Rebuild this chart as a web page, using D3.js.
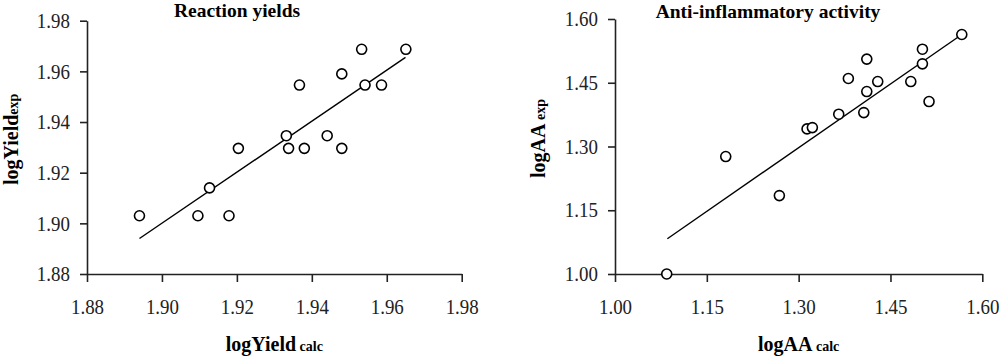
<!DOCTYPE html>
<html>
<head>
<meta charset="utf-8">
<script src="https://cdn.jsdelivr.net/npm/d3@7"></script>
<style>
  body { margin: 0; background: #fff; }
  svg { display: block; }
  svg text { font-family: "Liberation Serif", "Times New Roman", serif; }
</style>
</head>
<body>
<div id="chart"></div>
<script>
// left panel: reaction yields
const yieldCalc = [1.894, 1.9096, 1.9127, 1.9179, 1.9204, 1.9332, 1.9338, 1.9367, 1.938, 1.9441, 1.948, 1.948, 1.9533, 1.9542, 1.9586, 1.9651];
const yieldExp  = [1.903, 1.903, 1.914, 1.903, 1.9296, 1.9346, 1.9296, 1.9546, 1.9296, 1.9346, 1.959, 1.9296, 1.9687, 1.9546, 1.9546, 1.9687];
const yieldFitX = [1.894, 1.965];
const yieldFitY = [1.894, 1.9655];
const yieldTicks = [1.88, 1.90, 1.92, 1.94, 1.96, 1.98];

// right panel: anti-inflammatory activity
const aaCalc = [1.0845, 1.1809, 1.2685, 1.3137, 1.3224, 1.3655, 1.3812, 1.4064, 1.4113, 1.4113, 1.4292, 1.4832, 1.5022, 1.5022, 1.513, 1.5665];
const aaExp  = [1.00, 1.2763, 1.1845, 1.3414, 1.3445, 1.376, 1.46, 1.3798, 1.5056, 1.4293, 1.4528, 1.4528, 1.529, 1.4945, 1.4058, 1.5635];
const aaFitX = [1.0855, 1.5665];
const aaFitY = [1.083, 1.5635];
const aaTicks = [1.00, 1.15, 1.30, 1.45, 1.60];

const width = 1000, height = 360;
const fmt = d3.format(".2f");

const svg = d3.select("#chart").append("svg")
    .attr("width", width)
    .attr("height", height)
    .attr("viewBox", [0, 0, width, height]);

function panel(opt) {
    const x = d3.scaleLinear().domain(opt.xDomain).range(opt.xRange);
    const y = d3.scaleLinear().domain(opt.yDomain).range(opt.yRange);
    const g = svg.append("g");

    // axes
    const yAx = g.append("g")
        .attr("transform", `translate(${opt.xRange[0]},0)`)
        .call(d3.axisLeft(y).tickValues(opt.ticks).tickFormat(fmt).tickSize(7).tickPadding(10).tickSizeOuter(0));
    const xAx = g.append("g")
        .attr("transform", `translate(0,${opt.yRange[0]})`)
        .call(d3.axisBottom(x).tickValues(opt.ticks).tickFormat(fmt).tickSize(8).tickPadding(17).tickSizeOuter(0));

    [xAx, yAx].forEach(a => {
        a.attr("font-family", null).attr("font-size", null);
        a.select(".domain").attr("stroke", "#222").attr("stroke-width", 1.6);
        a.selectAll(".tick line").attr("stroke", "#222").attr("stroke-width", 1.6);
        a.selectAll(".tick text")
            .style("font-family", "'Liberation Serif', serif")
            .style("font-size", "21px")
            .attr("fill", "#222");
    });
    // squeeze digits a bit, like the original
    xAx.selectAll(".tick text").attr("transform", "scale(0.9,1)");
    yAx.selectAll(".tick text").attr("transform", "scale(0.9,1)").attr("x", -19);

    // fitted line
    g.append("line")
        .attr("x1", x(opt.fitX[0])).attr("y1", y(opt.fitY[0]))
        .attr("x2", x(opt.fitX[1])).attr("y2", y(opt.fitY[1]))
        .attr("stroke", "#000")
        .attr("stroke-width", 1.4);

    // points
    g.append("g")
        .selectAll("circle")
        .data(opt.calc.map((c, i) => [c, opt.exp[i]]))
        .join("circle")
        .attr("cx", d => x(d[0]))
        .attr("cy", d => y(d[1]))
        .attr("r", 5)
        .attr("fill", "#fff")
        .attr("stroke", "#000")
        .attr("stroke-width", 1.6);

    // title
    g.append("text")
        .attr("x", opt.titleX)
        .attr("y", opt.titleY)
        .attr("text-anchor", "middle")
        .attr("font-weight", "bold")
        .attr("font-size", 19.5)
        .text(opt.title);

    // x label
    const xl = g.append("text")
        .attr("x", (opt.xRange[0] + opt.xRange[1]) / 2)
        .attr("y", 351)
        .attr("text-anchor", "middle")
        .attr("font-weight", "bold")
        .attr("font-size", 20);
    xl.append("tspan").text(opt.xLabel[0]);
    xl.append("tspan").attr("font-size", 14).text(opt.xLabel[1]);

    // y label
    const cy = (opt.yRange[0] + opt.yRange[1]) / 2 - 8;
    const yl = g.append("text")
        .attr("transform", `translate(${opt.yLabelX},${cy}) rotate(-90)`)
        .attr("text-anchor", "middle")
        .attr("font-weight", "bold")
        .attr("font-size", 20);
    yl.append("tspan").text(opt.yLabel[0]);
    yl.append("tspan").attr("font-size", 14).text(opt.yLabel[1]);
}

panel({
    calc: yieldCalc, exp: yieldExp, fitX: yieldFitX, fitY: yieldFitY, ticks: yieldTicks,
    xDomain: [1.88, 1.98], yDomain: [1.88, 1.98],
    xRange: [87, 461.7], yRange: [274, 20.7],
    title: "Reaction yields", titleX: 237, titleY: 17,
    xLabel: ["logYield", " calc"], yLabel: ["logYield", "exp"], yLabelX: 18
});

panel({
    calc: aaCalc, exp: aaExp, fitX: aaFitX, fitY: aaFitY, ticks: aaTicks,
    xDomain: [1.00, 1.60], yDomain: [1.00, 1.60],
    xRange: [615, 982.3], yRange: [274, 19],
    title: "Anti-inflammatory activity", titleX: 768, titleY: 18,
    xLabel: ["logAA", " calc"], yLabel: ["logAA", " exp"], yLabelX: 545
});
</script>
</body>
</html>
